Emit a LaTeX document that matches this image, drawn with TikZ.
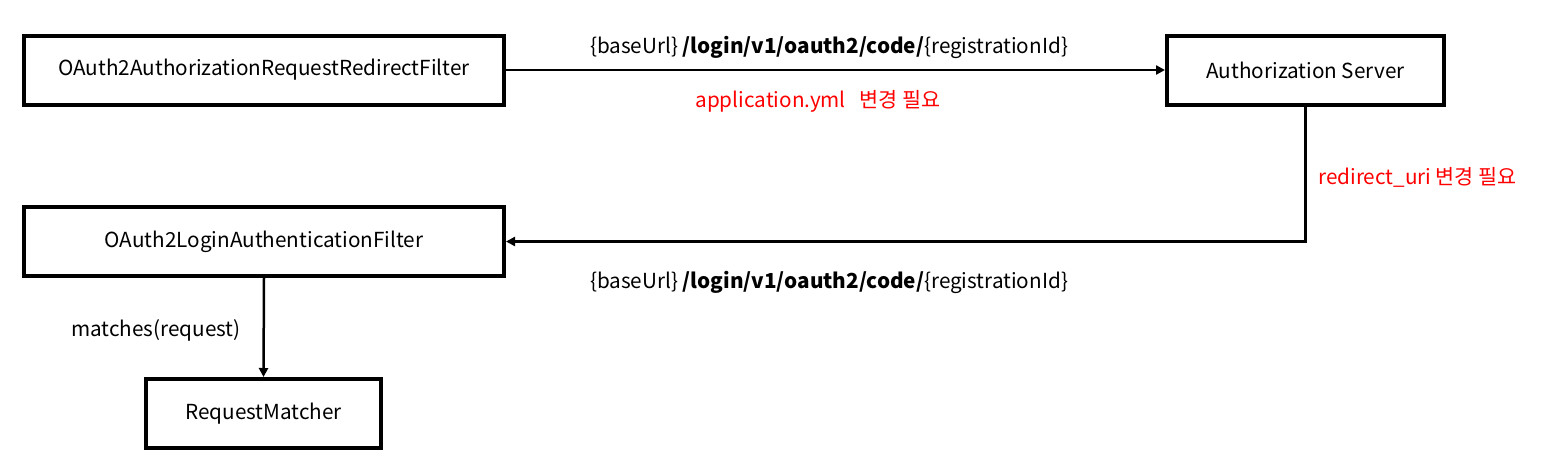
\documentclass[tikz,border=0pt]{standalone}
\usepackage{fontspec}
\setmainfont{Noto Sans CJK KR}
\usepackage{tikz}
\usetikzlibrary{arrows.meta,positioning}
\definecolor{warn}{HTML}{FF0000}

\begin{document}
\begin{tikzpicture}[x=1pt,y=-1pt,
    box/.style={draw,line width=4pt,minimum height=69pt,inner sep=0pt,font=\fontsize{20.7}{24}\selectfont},
    flow/.style={line width=2.5pt,-{Triangle[length=9pt,width=9pt]}},
    lbl/.style={font=\fontsize{20.7}{24}\selectfont,inner sep=0pt}]
  \useasboundingbox (0,0) rectangle (1567,475);
  \node[box,minimum width=480pt] (redir) at (264,70) {OAuth2AuthorizationRequestRedirectFilter};
  \node[box,minimum width=277pt] (authsrv) at (1305.5,70.5) {Authorization Server};
  \node[box,minimum width=480pt] (loginf) at (264,241.5) {OAuth2LoginAuthenticationFilter};
  \node[box,minimum width=235pt] (matcher) at (263.5,413.5) {RequestMatcher};
  % connectors
  \draw[flow] (redir.east) -- (redir.east -| authsrv.west);
  \draw[flow] (authsrv.south) |- (loginf.east);
  \draw[flow] (loginf.south) -- (matcher.north);
  % labels
  \node[lbl] (urltop) at (829,47) {\{baseUrl\} \textbf{/login/v1/oauth2/code/}\{registrationId\}};
  \node[lbl,warn] (ymlnote) at (818,101) {application.yml\ \ \ 변경 필요};
  \node[lbl,warn,anchor=west] (uringote) at (1318,177) {redirect\_uri 변경 필요};
  \node[lbl] (urlbot) at (829,282) {\{baseUrl\} \textbf{/login/v1/oauth2/code/}\{registrationId\}};
  \node[lbl] (matchlbl) at (156,330) {matches(request)};
\end{tikzpicture}
\end{document}
